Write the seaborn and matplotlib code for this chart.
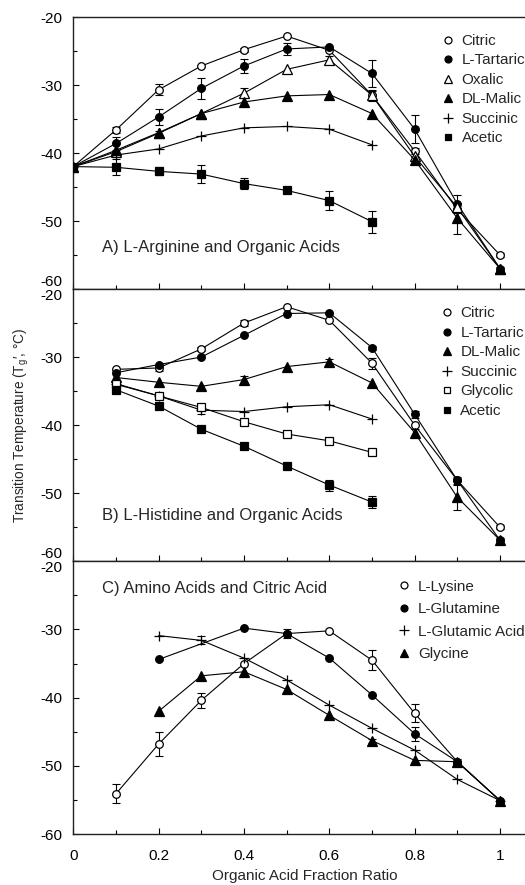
import seaborn as sns
import matplotlib.pyplot as plt
import numpy as np
import pandas as pd
from matplotlib.lines import Line2D
from matplotlib.ticker import MultipleLocator
from matplotlib import font_manager

sns.set_style("ticks")
plt.rcParams['font.family'] = ['Liberation Sans', 'DejaVu Sans']
plt.rcParams['axes.unicode_minus'] = False

# pick a condensed face for the y label if one is installed
installed = {f.name for f in font_manager.fontManager.ttflist}
if 'Liberation Sans Narrow' in installed:
    ylab_family, ylab_size = 'Liberation Sans Narrow', 11
elif 'DejaVu Sans Condensed' in installed:
    ylab_family, ylab_size = 'DejaVu Sans Condensed', 10
else:
    ylab_family, ylab_size = 'Liberation Sans', 9.8
plt.rcParams['mathtext.fontset'] = 'custom'
plt.rcParams['mathtext.rm'] = ylab_family

# ---- data ----
x_a = [0.0, 0.1, 0.2, 0.3, 0.4, 0.5, 0.6, 0.7, 0.8, 0.9, 1.0]
x_a7 = [0.0, 0.1, 0.2, 0.3, 0.4, 0.5, 0.6, 0.7]
a_citric = [-42, -36.6, -30.7, -27.2, -24.8, -22.8, -24.9, -31.5, -39.7, -48.3, -55.0]
a_citric_err = [0, 0.4, 0.8, 0, 0.3, 0, 0, 0.6, 0.5, 0, 0.3]
a_tartaric = [-42, -38.6, -34.7, -30.5, -27.2, -24.7, -24.4, -28.3, -36.5, -47.5, -57.0]
a_tartaric_err = [0, 1.0, 1.2, 1.5, 1.0, 0.9, 0, 2.0, 2.1, 1.3, 0.3]
a_oxalic = [-42, -39.8, -37.1, -34.2, -31.2, -27.7, -26.3, -31.5, -40.5, -48.0, -57.0]
a_oxalic_err = [0, 0, 0.4, 0, 0.7, 0, 0.5, 0.8, 0, 0, 0]
a_malic = [-42, -39.6, -37.0, -34.2, -32.5, -31.6, -31.4, -34.2, -41.0, -49.6, -57.0]
a_malic_err = [0, 0, 0, 0, 0, 0, 0, 0, 0.4, 2.3, 0]
a_succinic = [-42, -40.3, -39.4, -37.5, -36.3, -36.1, -36.5, -38.8]
a_succinic_err = [0, 0, 0, 0, 0, 0, 0, 0]
a_acetic = [-42, -42.1, -42.7, -43.1, -44.5, -45.5, -47.0, -50.1]
a_acetic_err = [0, 1.2, 0.6, 1.3, 0.8, 0.4, 1.4, 1.6]

x_b = [0.1, 0.2, 0.3, 0.4, 0.5, 0.6, 0.7, 0.8, 0.9, 1.0]
x_b7 = [0.1, 0.2, 0.3, 0.4, 0.5, 0.6, 0.7]
b_citric = [-31.8, -31.6, -28.8, -25.0, -22.6, -24.6, -30.9, -40.0, -48.1, -55.0]
b_citric_err = [0, 0.4, 0.3, 0.4, 0, 0, 0.8, 0, 0, 0.3]
b_tartaric = [-32.3, -31.1, -30.0, -26.8, -23.6, -23.5, -28.6, -38.4, -48.1, -56.9]
b_tartaric_err = [0, 0, 0, 0, 0, 0, 0.3, 0.5, 0.5, 0.3]
b_malic = [-33.0, -33.7, -34.3, -33.3, -31.4, -30.7, -33.8, -41.1, -50.6, -56.9]
b_malic_err = [0, 0, 0, 0.5, 0, 0.4, 0, 0.5, 1.8, 0]
b_succinic = [-34.0, -35.7, -37.8, -38.0, -37.3, -37.0, -39.1]
b_succinic_err = [0, 0, 0.6, 0, 0, 0, 0]
b_glycolic = [-33.9, -35.7, -37.4, -39.5, -41.3, -42.3, -44.0]
b_glycolic_err = [0, 0, 0, 0, 0, 0, 0]
b_acetic = [-34.8, -37.2, -40.6, -43.1, -46.0, -48.8, -51.3]
b_acetic_err = [0, 0.3, 0, 0, 0.4, 0.8, 0.9]

x_lys = [0.1, 0.2, 0.3, 0.4, 0.5, 0.6, 0.7, 0.8, 0.9, 1.0]
c_lysine = [-54.1, -46.8, -40.4, -35.0, -30.6, -30.2, -34.5, -42.3, -49.4, -55.1]
c_lysine_err = [1.4, 1.7, 1.1, 0, 0, 0, 1.5, 1.3, 0.4, 0]
x_gln = [0.2, 0.4, 0.5, 0.6, 0.7, 0.8, 0.9, 1.0]
c_glutamine = [-34.4, -29.8, -30.6, -34.2, -39.6, -45.3, -49.4, -55.1]
c_glutamine_err = [0, 0, 0.6, 0, 0, 1.0, 0, 0]
x_c = [0.2, 0.3, 0.4, 0.5, 0.6, 0.7, 0.8, 0.9, 1.0]
c_glutamic = [-30.9, -31.6, -34.2, -37.4, -41.1, -44.5, -47.7, -52.0, -55.1]
c_glutamic_err = [0, 0.6, 0, 0, 0, 0, 0, 0, 0]
c_glycine = [-42.0, -36.8, -36.2, -38.8, -42.6, -46.3, -49.2, -49.4, -55.1]
c_glycine_err = [0, 0, 0, 0, 0, 0.3, 0, 0, 0]

x_ticklabels = ['0', '0.2', '0.4', '0.6', '0.8', '1']
y_ticks = [-20, -30, -40, -50, -60]

# marker styles: (marker, face, size)
styles = {
    'open_circle': ('o', 'white', 5.5),
    'circle': ('o', 'black', 5.5),
    'open_tri': ('^', 'white', 6.5),
    'tri': ('^', 'black', 6.5),
    'plus': ('+', 'black', 7.5),
    'open_square': ('s', 'white', 5.5),
    'square': ('s', 'black', 5.5),
}

panel_a = [
    ('Citric', x_a, a_citric, a_citric_err, 'open_circle'),
    ('L-Tartaric', x_a, a_tartaric, a_tartaric_err, 'circle'),
    ('Oxalic', x_a, a_oxalic, a_oxalic_err, 'open_tri'),
    ('DL-Malic', x_a, a_malic, a_malic_err, 'tri'),
    ('Succinic', x_a7, a_succinic, a_succinic_err, 'plus'),
    ('Acetic', x_a7, a_acetic, a_acetic_err, 'square'),
]
panel_b = [
    ('Citric', x_b, b_citric, b_citric_err, 'open_circle'),
    ('L-Tartaric', x_b, b_tartaric, b_tartaric_err, 'circle'),
    ('DL-Malic', x_b, b_malic, b_malic_err, 'tri'),
    ('Succinic', x_b7, b_succinic, b_succinic_err, 'plus'),
    ('Glycolic', x_b7, b_glycolic, b_glycolic_err, 'open_square'),
    ('Acetic', x_b7, b_acetic, b_acetic_err, 'square'),
]
panel_c = [
    ('L-Lysine', x_lys, c_lysine, c_lysine_err, 'open_circle'),
    ('L-Glutamine', x_gln, c_glutamine, c_glutamine_err, 'circle'),
    ('L-Glutamic Acid', x_c, c_glutamic, c_glutamic_err, 'plus'),
    ('Glycine', x_c, c_glycine, c_glycine_err, 'tri'),
]

W, H = 525, 885
fig = plt.figure(figsize=(W / 100, H / 100), dpi=100)
left = 73.3 / W
width = 1 - left
xmax = (W - 73.3) / 426.7

def draw_panel(ax, series, title, title_y, leg_x, leg_y, leg_space):
    for name, xs, ys, es, st in series:
        m, fc, ms = styles[st]
        df = pd.DataFrame({'x': xs, 'y': ys, 'e': es})
        sns.lineplot(data=df, x='x', y='y', ax=ax, color='black', lw=0.8,
                     marker=m, markersize=ms, markerfacecolor=fc,
                     markeredgecolor='black', markeredgewidth=0.9, zorder=3)
        sub = df[df['e'] > 0]
        if len(sub):
            ax.errorbar(sub['x'], sub['y'], yerr=sub['e'], fmt='none',
                        ecolor='black', elinewidth=0.8, capsize=3,
                        capthick=0.8, zorder=2)
    handles = []
    for name, xs, ys, es, st in series:
        m, fc, ms = styles[st]
        handles.append(Line2D([], [], ls='none', marker=m, markersize=ms - 0.5,
                              markerfacecolor=fc, markeredgecolor='black',
                              markeredgewidth=0.9, label=name))
    ax.legend(handles=handles, loc='upper left', bbox_to_anchor=(leg_x, leg_y),
              frameon=False, fontsize=11, borderpad=0, borderaxespad=0,
              handlelength=0.8, handletextpad=0.5, labelspacing=leg_space)
    ax.text(0.063, title_y, title, transform=ax.transAxes, fontsize=12,
            va='center', ha='left')
    ax.set_xlim(0, xmax)
    ax.set_ylim(-60, -20)
    ax.set_xticks(np.arange(0, 1.01, 0.2))
    ax.xaxis.set_minor_locator(MultipleLocator(0.1))
    ax.set_yticks(y_ticks)
    ax.yaxis.set_minor_locator(MultipleLocator(5))
    ax.tick_params(which='both', direction='in', colors='black', labelsize=11,
                   width=0.8)
    ax.tick_params(which='major', length=4)
    ax.tick_params(which='minor', length=3)
    ax.tick_params(axis='y', pad=8)
    ax.tick_params(axis='x', pad=11)
    ax.set_xlabel('')
    ax.set_ylabel('')
    ax.spines['right'].set_visible(False)
    for s in ['left', 'top', 'bottom']:
        ax.spines[s].set_linewidth(1.0)
        ax.spines[s].set_color('#222222')

ax_a = fig.add_axes([left, 1 - 289 / H, width, 272 / H])
ax_b = fig.add_axes([left, 1 - 561.3 / H, width, 272.3 / H])
ax_c = fig.add_axes([left, 1 - 834 / H, width, 272.7 / H])

draw_panel(ax_a, panel_a, 'A) L-Arginine and Organic Acids', 0.151, 0.816, 0.938, 0.36)
draw_panel(ax_b, panel_b, 'B) L-Histidine and Organic Acids', 0.170, 0.813, 0.936, 0.36)
draw_panel(ax_c, panel_c, 'C) Amino Acids and Citric Acid', 0.899, 0.719, 0.933, 0.56)

ax_a.set_xticklabels([])
ax_b.set_xticklabels([])
ax_c.set_xticklabels(x_ticklabels)

# stacked panels: keep the -60 / -20 labels at the joins from colliding
for ax in (ax_a, ax_b):
    ax.yaxis.get_major_ticks()[-1].label1.set_va('bottom')
for ax in (ax_b, ax_c):
    ax.yaxis.get_major_ticks()[0].label1.set_va('top')

fig.text(305 / W, 1 - 876 / H, 'Organic Acid Fraction Ratio', fontsize=11,
         ha='center', va='center')
fig.text(21 / W, 1 - 425 / H,
         'Transition Temperature (T$_{\\mathrm{g}}$\u2032, \u00b0C)',
         rotation=90, fontsize=ylab_size, ha='center', va='center',
         family=[ylab_family, 'DejaVu Sans'])

fig.savefig('out.png', dpi=100)
